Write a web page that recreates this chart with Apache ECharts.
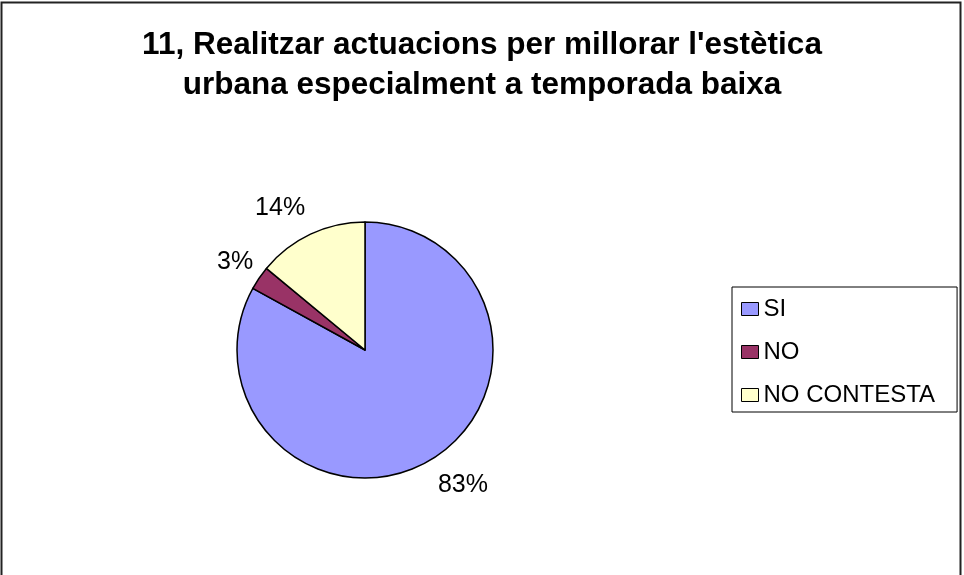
<!DOCTYPE html>
<html>
<head>
<meta charset="utf-8">
<script src="https://cdn.jsdelivr.net/npm/echarts@6/dist/echarts.min.js"></script>
<style>
	html, body { margin: 0; padding: 0; background: #fff; }
	#chart { width: 964px; height: 575px; }
</style>
</head>
<body>
<div id="chart"></div>
<script>
// dades del gràfic
const categories = ["SI", "NO", "NO CONTESTA"]
const percents = [83, 3, 14]
const colors = ["#9999FF", "#993366", "#FFFFCC"]
const titleText = "11, Realitzar actuacions per millorar l'estètica\nurbana especialment a temporada baixa"

// ajust fi de les etiquetes (distància a la vora del pastís)
const labelGap = [-7, -18, -7]

const chart = echarts.init(document.getElementById("chart"))

const fontFamily = "Liberation Sans, Arial, sans-serif"

let data = []
for (let i = 0; i < categories.length; i++) {
	data.push({
		name: categories[i],
		value: percents[i],
		itemStyle: { color: colors[i] },
		label: { distanceToLabelLine: labelGap[i] }
	})
}

const option = {
	backgroundColor: "#fff",
	animation: false,
	title: {
		text: titleText,
		left: 482,
		textAlign: "center",
		top: 25,
		padding: 0,
		textStyle: {
			fontFamily: fontFamily,
			fontSize: 31.5,
			fontWeight: "bold",
			lineHeight: 40,
			color: "#000"
		}
	},
	legend: {
		orient: "vertical",
		left: 732,
		top: 287,
		padding: [10, 22, 5, 9],
		itemGap: 19,
		itemWidth: 17,
		itemHeight: 13,
		icon: "rect",
		borderColor: "#000",
		borderWidth: 1,
		data: categories,
		itemStyle: { borderColor: "#000", borderWidth: 1 },
		textStyle: {
			fontFamily: fontFamily,
			fontSize: 24,
			color: "#000"
		}
	},
	graphic: [
		{
			type: "rect",
			shape: { x: 1.5, y: 2.5, width: 959, height: 620 },
			style: { fill: null, stroke: "#222", lineWidth: 2 },
			silent: true
		}
	],
	series: [
		{
			type: "pie",
			center: [365, 350],
			radius: 128,
			startAngle: 90,
			clockwise: true,
			data: data,
			itemStyle: { borderColor: "#000", borderWidth: 1.5 },
			label: {
				show: true,
				position: "outside",
				formatter: "{c}%",
				fontFamily: fontFamily,
				fontSize: 25,
				color: "#000"
			},
			labelLine: { show: false, length: 29, length2: 0 },
			emphasis: { disabled: true }
		}
	]
}

chart.setOption(option)
</script>
</body>
</html>
